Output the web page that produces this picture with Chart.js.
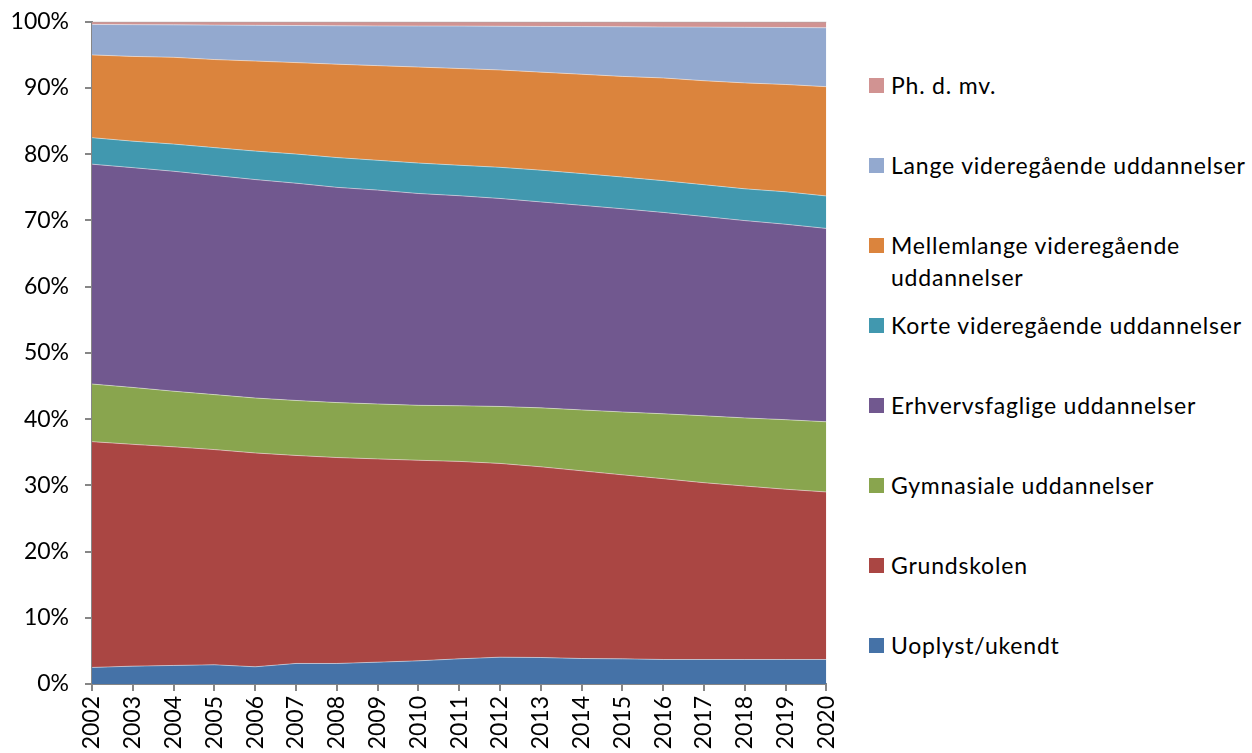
<!DOCTYPE html>
<html>
<head>
<meta charset="utf-8">
<script src="https://cdn.jsdelivr.net/npm/chart.js@4/dist/chart.umd.min.js"></script>
<style>
  html, body { margin: 0; padding: 0; background: #fff; }
  body { width: 1252px; height: 753px; position: relative; overflow: hidden; font-family: Lato, 'Open Sans', sans-serif; }
  #wrap { position: absolute; left: 0; top: -8px; width: 859px; height: 761px; }
  #legend { position: absolute; left: 869px; top: 69px; width: 383px; }
  .item { height: 80px; display: flex; align-items: flex-start; }
  .box { width: 15px; height: 15px; margin-top: 9px; margin-right: 7px; flex: none; }
  .txt { font-size: 23px; letter-spacing: 0.8px; line-height: 32px; color: #000; white-space: nowrap; }
</style>
</head>
<body>
<div id="wrap"><canvas id="chart" width="859" height="761"></canvas></div>
<div id="legend"></div>
<script>
const years = ['2002','2003','2004','2005','2006','2007','2008','2009','2010','2011',
  '2012','2013','2014','2015','2016','2017','2018','2019','2020'];

// shares in percent
const uoplyst = [2.5, 2.7, 2.8, 2.9, 2.6, 3.1, 3.1, 3.3, 3.5, 3.8, 4.05, 4.0, 3.85, 3.8, 3.7, 3.7, 3.7, 3.7, 3.7];
const grundskolen = [34.1, 33.5, 33.0, 32.5, 32.3, 31.4, 31.1, 30.7, 30.3, 29.8, 29.25, 28.8, 28.35, 27.8, 27.3, 26.7, 26.2, 25.7, 25.3];
const gymnasiale = [8.7, 8.6, 8.4, 8.3, 8.3, 8.3, 8.3, 8.3, 8.3, 8.4, 8.6, 8.9, 9.2, 9.5, 9.8, 10.1, 10.3, 10.5, 10.6];
const erhverv = [33.2, 33.2, 33.2, 33.1, 33.0, 32.8, 32.5, 32.3, 32.0, 31.7, 31.4, 31.1, 30.9, 30.7, 30.4, 30.1, 29.8, 29.5, 29.2];
const korte = [4.0, 4.0, 4.1, 4.2, 4.3, 4.4, 4.5, 4.5, 4.6, 4.6, 4.7, 4.8, 4.8, 4.8, 4.8, 4.8, 4.8, 4.9, 4.9];
const mellemlange = [12.5, 12.8, 13.1, 13.3, 13.6, 13.8, 14.1, 14.3, 14.5, 14.6, 14.7, 14.8, 15.0, 15.2, 15.5, 15.7, 16.0, 16.2, 16.5];
const lange = [4.6, 4.8, 4.9, 5.2, 5.4, 5.6, 5.8, 6.0, 6.2, 6.4, 6.6, 6.9, 7.2, 7.5, 7.7, 8.1, 8.4, 8.6, 8.9];
const phd = [0.4, 0.43, 0.46, 0.5, 0.53, 0.56, 0.6, 0.62, 0.64, 0.65, 0.67, 0.7, 0.72, 0.75, 0.78, 0.8, 0.83, 0.86, 0.9];

const yTicks = [0, 10, 20, 30, 40, 50, 60, 70, 80, 90, 100];

const series = [
  { label: 'Uoplyst/ukendt', data: uoplyst, color: '#4572A7' },
  { label: 'Grundskolen', data: grundskolen, color: '#AA4643' },
  { label: 'Gymnasiale uddannelser', data: gymnasiale, color: '#89A54E' },
  { label: 'Erhvervsfaglige uddannelser', data: erhverv, color: '#71588F' },
  { label: 'Korte videregående uddannelser', data: korte, color: '#4198AF' },
  { label: 'Mellemlange videregående uddannelser', data: mellemlange, color: '#DB843D' },
  { label: 'Lange videregående uddannelser', data: lange, color: '#93A9CF' },
  { label: 'Ph. d. mv.', data: phd, color: '#D19392' },
];

// 100% stacked: scale each year to its total
const totals = years.map((_, i) => series.reduce((s, d) => s + d.data[i], 0));

const axisGrey = '#868686';
const font = { family: 'Lato', size: 23 };

new Chart(document.getElementById('chart').getContext('2d'), {
  type: 'line',
  data: {
    labels: years,
    datasets: series.map((s, k) => ({
      label: s.label,
      data: s.data.map((v, i) => v / totals[i] * 100),
      backgroundColor: s.color,
      borderColor: k === series.length - 1 ? '#a6a6a6' : 'rgba(255,255,255,0.45)',
      borderWidth: 1,
      pointRadius: 0,
      tension: 0,
      fill: k === 0 ? 'origin' : '-1',
    }))
  },
  options: {
    responsive: false,
    animation: false,
    layout: { padding: 0 },
    plugins: { legend: { display: false }, tooltip: { enabled: false } },
    scales: {
      x: {
        offset: false,
        afterFit: (scale) => { scale.height = 69; },
        grid: { drawOnChartArea: false, drawTicks: true, tickLength: 7, color: axisGrey, lineWidth: 2 },
        border: { color: axisGrey, width: 2 },
        ticks: { color: '#000', font, minRotation: 90, maxRotation: 90, padding: 5, autoSkip: false }
      },
      y: {
        stacked: true,
        min: 0,
        max: 100,
        afterFit: (scale) => { scale.width = 92; },
        afterBuildTicks: (scale) => { scale.ticks = yTicks.map(v => ({ value: v })); },
        grid: { drawOnChartArea: false, drawTicks: true, tickLength: 7, color: axisGrey, lineWidth: 2 },
        border: { color: axisGrey, width: 2 },
        ticks: { color: '#000', font, padding: 16, callback: (v) => v + '%' }
      }
    }
  }
});

// legend, top entry = top of the stack
const legend = document.getElementById('legend');
series.slice().reverse().forEach(s => {
  const item = document.createElement('div');
  item.className = 'item';
  const box = document.createElement('div');
  box.className = 'box';
  box.style.background = s.color;
  const txt = document.createElement('div');
  txt.className = 'txt';
  txt.innerHTML = s.label === 'Mellemlange videregående uddannelser'
    ? 'Mellemlange videregående<br>uddannelser' : s.label;
  item.appendChild(box);
  item.appendChild(txt);
  legend.appendChild(item);
});
</script>
</body>
</html>
